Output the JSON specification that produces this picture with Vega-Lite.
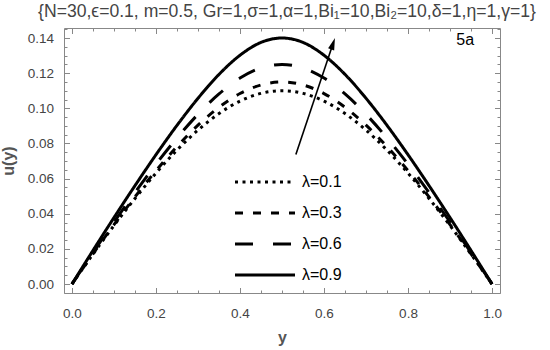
{
  "$schema": "https://vega.github.io/schema/vega-lite/v6.json",
  "width": 436,
  "height": 265,
  "autosize": {"type": "none"},
  "padding": {"left": 64, "top": 28, "right": 50, "bottom": 57},
  "background": "white",
  "title": {
    "text": "{N=30,ϵ=0.1, m=0.5, Gr=1,σ=1,α=1,Bi₁=10,Bi₂=10,δ=1,η=1,γ=1}",
    "font": "Liberation Sans",
    "fontSize": 17.6,
    "fontWeight": "normal",
    "color": "#444",
    "offset": 7,
    "dx": 5
  },
  "config": {
    "view": {"stroke": "#888", "strokeWidth": 1},
    "axis": {"grid": false, "domain": false, "tickColor": "#888", "labelFont": "Liberation Sans", "labelColor": "#444", "labelFontSize": 13.5, "titleFont": "Liberation Sans", "titleColor": "#555"}
  },
  "datasets": {
    "curves": [
      {"x": 0.00, "u": 0.0000, "lam": "λ=0.1"}, {"x": 0.05, "u": 0.0170, "lam": "λ=0.1"}, {"x": 0.10, "u": 0.0333, "lam": "λ=0.1"}, {"x": 0.15, "u": 0.0487, "lam": "λ=0.1"}, {"x": 0.20, "u": 0.0631, "lam": "λ=0.1"}, {"x": 0.25, "u": 0.0762, "lam": "λ=0.1"}, {"x": 0.30, "u": 0.0876, "lam": "λ=0.1"}, {"x": 0.35, "u": 0.0970, "lam": "λ=0.1"}, {"x": 0.40, "u": 0.1041, "lam": "λ=0.1"}, {"x": 0.45, "u": 0.1085, "lam": "λ=0.1"}, {"x": 0.50, "u": 0.1100, "lam": "λ=0.1"}, {"x": 0.55, "u": 0.1085, "lam": "λ=0.1"}, {"x": 0.60, "u": 0.1041, "lam": "λ=0.1"}, {"x": 0.65, "u": 0.0970, "lam": "λ=0.1"}, {"x": 0.70, "u": 0.0876, "lam": "λ=0.1"}, {"x": 0.75, "u": 0.0762, "lam": "λ=0.1"}, {"x": 0.80, "u": 0.0631, "lam": "λ=0.1"}, {"x": 0.85, "u": 0.0487, "lam": "λ=0.1"}, {"x": 0.90, "u": 0.0333, "lam": "λ=0.1"}, {"x": 0.95, "u": 0.0170, "lam": "λ=0.1"}, {"x": 1.00, "u": 0.0000, "lam": "λ=0.1"},
      {"x": 0.00, "u": 0.0000, "lam": "λ=0.3"}, {"x": 0.05, "u": 0.0172, "lam": "λ=0.3"}, {"x": 0.10, "u": 0.0338, "lam": "λ=0.3"}, {"x": 0.15, "u": 0.0496, "lam": "λ=0.3"}, {"x": 0.20, "u": 0.0645, "lam": "λ=0.3"}, {"x": 0.25, "u": 0.0782, "lam": "λ=0.3"}, {"x": 0.30, "u": 0.0904, "lam": "λ=0.3"}, {"x": 0.35, "u": 0.1006, "lam": "λ=0.3"}, {"x": 0.40, "u": 0.1084, "lam": "λ=0.3"}, {"x": 0.45, "u": 0.1133, "lam": "λ=0.3"}, {"x": 0.50, "u": 0.1150, "lam": "λ=0.3"}, {"x": 0.55, "u": 0.1133, "lam": "λ=0.3"}, {"x": 0.60, "u": 0.1084, "lam": "λ=0.3"}, {"x": 0.65, "u": 0.1006, "lam": "λ=0.3"}, {"x": 0.70, "u": 0.0904, "lam": "λ=0.3"}, {"x": 0.75, "u": 0.0782, "lam": "λ=0.3"}, {"x": 0.80, "u": 0.0645, "lam": "λ=0.3"}, {"x": 0.85, "u": 0.0496, "lam": "λ=0.3"}, {"x": 0.90, "u": 0.0338, "lam": "λ=0.3"}, {"x": 0.95, "u": 0.0172, "lam": "λ=0.3"}, {"x": 1.00, "u": 0.0000, "lam": "λ=0.3"},
      {"x": 0.00, "u": 0.0000, "lam": "λ=0.6"}, {"x": 0.05, "u": 0.0179, "lam": "λ=0.6"}, {"x": 0.10, "u": 0.0353, "lam": "λ=0.6"}, {"x": 0.15, "u": 0.0521, "lam": "λ=0.6"}, {"x": 0.20, "u": 0.0682, "lam": "λ=0.6"}, {"x": 0.25, "u": 0.0831, "lam": "λ=0.6"}, {"x": 0.30, "u": 0.0966, "lam": "λ=0.6"}, {"x": 0.35, "u": 0.1082, "lam": "λ=0.6"}, {"x": 0.40, "u": 0.1172, "lam": "λ=0.6"}, {"x": 0.45, "u": 0.1230, "lam": "λ=0.6"}, {"x": 0.50, "u": 0.1250, "lam": "λ=0.6"}, {"x": 0.55, "u": 0.1230, "lam": "λ=0.6"}, {"x": 0.60, "u": 0.1172, "lam": "λ=0.6"}, {"x": 0.65, "u": 0.1082, "lam": "λ=0.6"}, {"x": 0.70, "u": 0.0966, "lam": "λ=0.6"}, {"x": 0.75, "u": 0.0831, "lam": "λ=0.6"}, {"x": 0.80, "u": 0.0682, "lam": "λ=0.6"}, {"x": 0.85, "u": 0.0521, "lam": "λ=0.6"}, {"x": 0.90, "u": 0.0353, "lam": "λ=0.6"}, {"x": 0.95, "u": 0.0179, "lam": "λ=0.6"}, {"x": 1.00, "u": 0.0000, "lam": "λ=0.6"},
      {"x": 0.00, "u": 0.0000, "lam": "λ=0.9"}, {"x": 0.05, "u": 0.0191, "lam": "λ=0.9"}, {"x": 0.10, "u": 0.0378, "lam": "λ=0.9"}, {"x": 0.15, "u": 0.0560, "lam": "λ=0.9"}, {"x": 0.20, "u": 0.0736, "lam": "λ=0.9"}, {"x": 0.25, "u": 0.0903, "lam": "λ=0.9"}, {"x": 0.30, "u": 0.1057, "lam": "λ=0.9"}, {"x": 0.35, "u": 0.1193, "lam": "λ=0.9"}, {"x": 0.40, "u": 0.1302, "lam": "λ=0.9"}, {"x": 0.45, "u": 0.1375, "lam": "λ=0.9"}, {"x": 0.50, "u": 0.1400, "lam": "λ=0.9"}, {"x": 0.55, "u": 0.1375, "lam": "λ=0.9"}, {"x": 0.60, "u": 0.1302, "lam": "λ=0.9"}, {"x": 0.65, "u": 0.1193, "lam": "λ=0.9"}, {"x": 0.70, "u": 0.1057, "lam": "λ=0.9"}, {"x": 0.75, "u": 0.0903, "lam": "λ=0.9"}, {"x": 0.80, "u": 0.0736, "lam": "λ=0.9"}, {"x": 0.85, "u": 0.0560, "lam": "λ=0.9"}, {"x": 0.90, "u": 0.0378, "lam": "λ=0.9"}, {"x": 0.95, "u": 0.0191, "lam": "λ=0.9"}, {"x": 1.00, "u": 0.0000, "lam": "λ=0.9"}
    ],
    "arrow": [{"x": 0.533, "u": 0.0737}, {"x": 0.620, "u": 0.1357}],
    "head": [{"x": 0.620, "u": 0.1357}],
    "label": [{"x": 0.936, "u": 0.139, "t": "5a"}]
  },
  "resolve": {"axis": {"x": "independent", "y": "independent"}},
  "layer": [
    {
      "data": {"name": "curves"},
      "mark": {"type": "line", "color": "black", "strokeWidth": 3, "interpolate": "monotone"},
      "encoding": {
        "x": {"field": "x", "type": "quantitative", "scale": {"domain": [-0.019, 1.019], "nice": false, "zero": false},
          "axis": {"orient": "bottom", "title": "y", "titleFontSize": 16, "titleFontWeight": "bold", "titlePadding": 9,
            "values": [0,0.05,0.1,0.15,0.2,0.25,0.3,0.35,0.4,0.45,0.5,0.55,0.6,0.65,0.7,0.75,0.8,0.85,0.9,0.95,1],
            "labelExpr": "abs(datum.value*5 - round(datum.value*5)) < 0.001 ? format(datum.value, '.1f') : ''",
            "tickSize": {"condition": {"test": "abs(datum.value*5 - round(datum.value*5)) < 0.001", "value": -5.5}, "value": -3},
            "labelPadding": 19}},
        "y": {"field": "u", "type": "quantitative", "scale": {"domain": [-0.0051, 0.1457], "nice": false, "zero": false},
          "axis": {"orient": "left", "title": "u(y)", "titleFontSize": 16, "titleFontWeight": "bold", "titlePadding": 11,
            "values": [-0.005,0,0.005,0.01,0.015,0.02,0.025,0.03,0.035,0.04,0.045,0.05,0.055,0.06,0.065,0.07,0.075,0.08,0.085,0.09,0.095,0.1,0.105,0.11,0.115,0.12,0.125,0.13,0.135,0.14,0.145],
            "labelExpr": "abs(datum.value*50 - round(datum.value*50)) < 0.001 ? format(datum.value, '.2f') : ''",
            "tickSize": {"condition": {"test": "abs(datum.value*50 - round(datum.value*50)) < 0.001", "value": -5.5}, "value": -3},
            "labelPadding": 16}},
        "strokeDash": {"field": "lam", "type": "nominal",
          "scale": {"domain": ["λ=0.1", "λ=0.3", "λ=0.6", "λ=0.9"], "range": [[3, 4.5], [8, 10], [18, 20], [1, 0]]},
          "legend": {"title": null, "orient": "none", "legendX": 193, "legendY": 146, "padding": 0,
            "symbolType": "M-6,0H6", "symbolSize": 100, "symbolStrokeWidth": 3, "symbolStrokeColor": "black",
            "labelOffset": 29, "labelFont": "Liberation Sans", "labelFontSize": 16, "labelColor": "black", "rowPadding": 15}}
      }
    },
    {
      "data": {"name": "arrow"},
      "mark": {"type": "line", "color": "black", "strokeWidth": 1.6},
      "encoding": {
        "x": {"field": "x", "type": "quantitative",
          "axis": {"orient": "top", "title": null, "labels": false,
            "values": [0,0.05,0.1,0.15,0.2,0.25,0.3,0.35,0.4,0.45,0.5,0.55,0.6,0.65,0.7,0.75,0.8,0.85,0.9,0.95,1],
            "tickSize": {"condition": {"test": "abs(datum.value*5 - round(datum.value*5)) < 0.001", "value": -5.5}, "value": -3}}},
        "y": {"field": "u", "type": "quantitative",
          "axis": {"orient": "right", "title": null, "labels": false,
            "values": [-0.005,0,0.005,0.01,0.015,0.02,0.025,0.03,0.035,0.04,0.045,0.05,0.055,0.06,0.065,0.07,0.075,0.08,0.085,0.09,0.095,0.1,0.105,0.11,0.115,0.12,0.125,0.13,0.135,0.14,0.145],
            "tickSize": {"condition": {"test": "abs(datum.value*50 - round(datum.value*50)) < 0.001", "value": -5.5}, "value": -3}}}
      }
    },
    {
      "data": {"name": "head"},
      "mark": {"type": "point", "shape": "M0,-2L0.8,1L-0.8,1Z", "size": 64, "filled": true, "color": "black", "opacity": 1, "angle": 18.6},
      "encoding": {
        "x": {"field": "x", "type": "quantitative", "axis": null},
        "y": {"field": "u", "type": "quantitative", "axis": null}
      }
    },
    {
      "data": {"name": "label"},
      "mark": {"type": "text", "font": "Liberation Sans", "fontSize": 16, "color": "black", "align": "center", "baseline": "middle"},
      "encoding": {
        "x": {"field": "x", "type": "quantitative", "axis": null},
        "y": {"field": "u", "type": "quantitative", "axis": null},
        "text": {"field": "t"}
      }
    }
  ]
}
